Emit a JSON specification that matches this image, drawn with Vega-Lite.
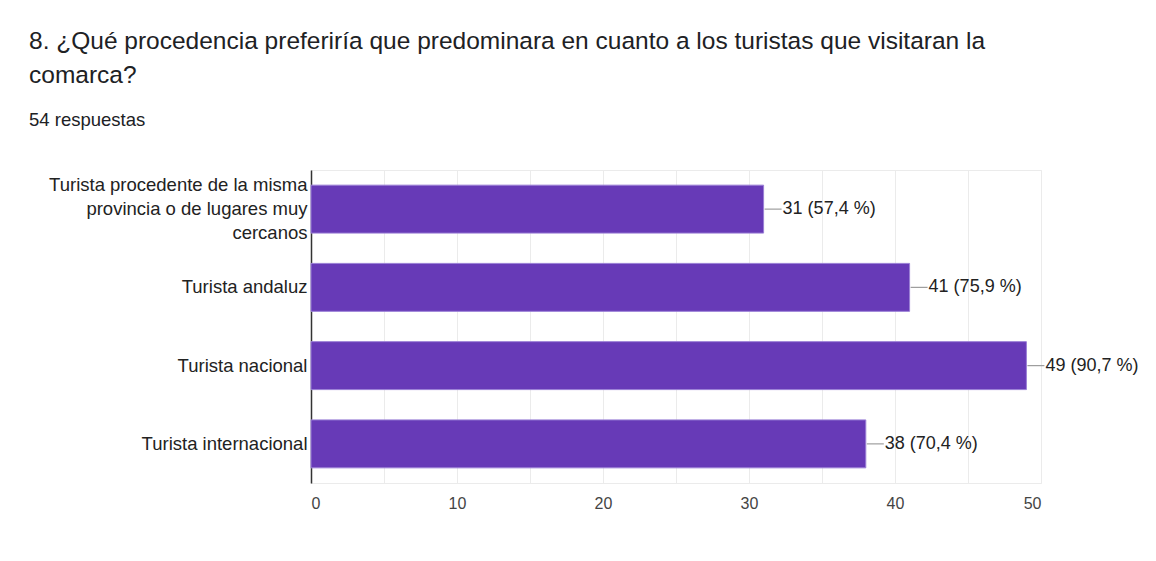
{
  "$schema": "https://vega.github.io/schema/vega-lite/v6.json",
  "width": 730,
  "height": 313,
  "autosize": {"type": "none"},
  "padding": {"left": 311, "top": 170, "right": 115, "bottom": 78},
  "background": "white",
  "title": {
    "text": ["8. ¿Qué procedencia preferiría que predominara en cuanto a los turistas que visitaran la", "comarca?"],
    "subtitle": "54 respuestas",
    "anchor": "start",
    "frame": "group",
    "dx": -282,
    "offset": 40,
    "font": "Liberation Sans",
    "fontSize": 24.5,
    "fontWeight": "normal",
    "lineHeight": 34,
    "color": "#202124",
    "subtitleFont": "Liberation Sans",
    "subtitleFontSize": 18.5,
    "subtitleColor": "#202124",
    "subtitlePadding": 22
  },
  "data": {
    "values": [
      {"procedencia": "Turista procedente de la misma|provincia o de lugares muy|cercanos", "n": 31, "etiqueta": "31 (57,4 %)"},
      {"procedencia": "Turista andaluz", "n": 41, "etiqueta": "41 (75,9 %)"},
      {"procedencia": "Turista nacional", "n": 49, "etiqueta": "49 (90,7 %)"},
      {"procedencia": "Turista internacional", "n": 38, "etiqueta": "38 (70,4 %)"}
    ]
  },
  "encoding": {
    "y": {
      "field": "procedencia",
      "type": "nominal",
      "sort": null,
      "scale": {"paddingInner": 0.387, "paddingOuter": 0.1935},
      "axis": {
        "title": null,
        "labelExpr": "split(datum.label, '|')",
        "labelLineHeight": 24,
        "labelBaseline": "middle",
        "labelOffset": {"condition": {"test": "indexof(datum.value, '|') >= 0", "value": -24}, "value": 0},
        "labelLimit": 0,
        "labelFont": "Liberation Sans",
        "labelFontSize": 18.5,
        "labelColor": "#222222",
        "labelPadding": 4,
        "ticks": false,
        "domain": true,
        "domainColor": "#333333",
        "domainWidth": 1.5,
        "grid": false
      }
    },
    "x": {
      "field": "n",
      "type": "quantitative",
      "scale": {"domain": [0, 50], "nice": false},
      "axis": {
        "title": null,
        "values": [0, 5, 10, 15, 20, 25, 30, 35, 40, 45, 50],
        "labelExpr": "datum.value % 10 === 0 ? datum.label : ''",
        "labelFont": "Liberation Sans",
        "labelFontSize": 16,
        "labelColor": "#444444",
        "labelPadding": 12,
        "ticks": false,
        "domain": false,
        "grid": true,
        "gridColor": "#ebebeb",
        "gridWidth": 1
      }
    }
  },
  "layer": [
    {
      "mark": {"type": "bar", "color": "#673ab7", "stroke": "#9a7fd6", "strokeWidth": 1}
    },
    {
      "mark": {"type": "rule", "color": "#9e9e9e", "strokeWidth": 1.2, "xOffset": 1, "x2Offset": 18},
      "encoding": {"x2": {"field": "n"}}
    },
    {
      "mark": {"type": "text", "align": "left", "baseline": "middle", "dx": 19, "font": "Liberation Sans", "fontSize": 18, "color": "#222222"},
      "encoding": {"text": {"field": "etiqueta"}}
    }
  ],
  "config": {
    "view": {"stroke": "#ebebeb", "strokeWidth": 1}
  }
}
